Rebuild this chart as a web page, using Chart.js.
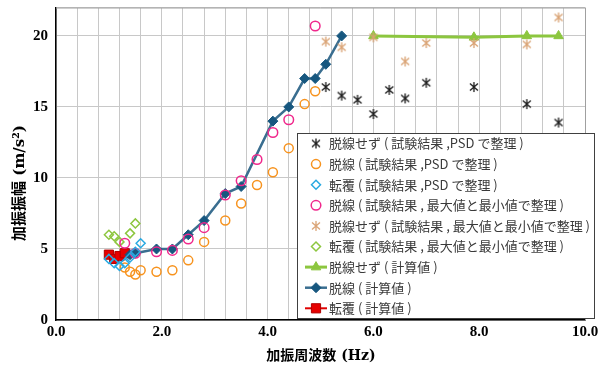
<!DOCTYPE html>
<html>
<head>
<meta charset="utf-8">
<script src="https://cdn.jsdelivr.net/npm/chart.js@4/dist/chart.umd.min.js"></script>
<style>
  html, body { margin: 0; padding: 0; background: #fff; }
  #wrap { width: 608px; height: 367px; position: relative; }
</style>
</head>
<body>
<div id="wrap"><canvas id="c" width="608" height="367"></canvas></div>
<script>
// Frequency (Hz) and acceleration amplitude (m/s^2) for each series
const noDerailPsdX = [5.1, 5.4, 5.7, 6.0, 6.3, 6.6, 7.0, 7.9, 8.9, 9.5];
const noDerailPsdY = [16.4, 15.8, 15.5, 14.5, 16.2, 15.6, 16.7, 16.4, 15.2, 13.9];

const derailPsdX = [1.3, 1.4, 1.5, 1.6, 1.9, 2.2, 2.5, 2.8, 3.2, 3.5, 3.8, 4.1, 4.4, 4.7, 4.9];
const derailPsdY = [3.7, 3.4, 3.2, 3.5, 3.4, 3.5, 4.2, 5.5, 7.0, 8.2, 9.5, 10.4, 12.1, 15.2, 16.1];

const overturnPsdX = [1.0, 1.1, 1.2, 1.3, 1.4, 1.5, 1.6];
const overturnPsdY = [4.3, 4.0, 3.8, 4.0, 4.4, 4.8, 5.4];

const derailPeakX = [1.3, 1.5, 1.9, 2.2, 2.5, 2.8, 3.2, 3.5, 3.8, 4.1, 4.4, 4.9];
const derailPeakY = [5.4, 4.7, 4.8, 4.9, 5.7, 6.5, 8.8, 9.8, 11.3, 13.2, 14.1, 20.7];

const noDerailPeakX = [5.1, 5.4, 6.0, 6.6, 7.0, 7.9, 8.9, 9.5];
const noDerailPeakY = [19.6, 19.2, 19.9, 18.2, 19.5, 19.5, 19.4, 21.3];

const overturnPeakX = [1.0, 1.1, 1.2, 1.4, 1.5];
const overturnPeakY = [6.0, 5.9, 5.5, 6.1, 6.8];

const noDerailCalcX = [6.0, 7.9, 8.9, 9.5];
const noDerailCalcY = [20.0, 19.9, 20.0, 20.0];

const derailCalcX = [1.4, 1.5, 1.9, 2.2, 2.5, 2.8, 3.2, 3.5, 4.1, 4.4, 4.7, 4.9, 5.1, 5.4];
const derailCalcY = [4.6, 4.7, 5.0, 5.0, 6.0, 7.0, 8.9, 9.4, 14.0, 15.0, 17.0, 17.0, 18.0, 20.0];

const overturnCalcX = [1.0, 1.1, 1.2, 1.3];
const overturnCalcY = [4.6, 4.3, 4.5, 4.7];

const seriesLabels = [
  '脱線せず ( 試験結果 ,PSD で整理 )',
  '脱線 ( 試験結果 ,PSD で整理 )',
  '転覆 ( 試験結果 ,PSD で整理 )',
  '脱線 ( 試験結果 , 最大値と最小値で整理 )',
  '脱線せず ( 試験結果 , 最大値と最小値で整理 )',
  '転覆 ( 試験結果 , 最大値と最小値で整理 )',
  '脱線せず ( 計算値 )',
  '脱線 ( 計算値 )',
  '転覆 ( 計算値 )'
];

const xTitle = '加振周波数 (Hz)';
const yTitle = '加振振幅 (m/s²)';

function pairs(xs, ys) { return xs.map((x, i) => ({ x: x, y: ys[i] })); }

// Asterisk marker: an X crossed by a vertical stroke
function asterisk(color) {
  const c = document.createElement('canvas');
  c.width = 12; c.height = 12;
  const g = c.getContext('2d');
  g.strokeStyle = color;
  g.lineWidth = 1.3;
  g.beginPath();
  g.moveTo(2, 2.5); g.lineTo(10, 9.5);
  g.moveTo(10, 2.5); g.lineTo(2, 9.5);
  g.moveTo(6, 1); g.lineTo(6, 11);
  g.stroke();
  return c;
}

const blackStar = asterisk('#1a1a1a');
const tanStar = asterisk('#d9a273');
const clear = 'rgba(0,0,0,0)';

const datasets = [
  { label: seriesLabels[0], data: pairs(noDerailPsdX, noDerailPsdY), showLine: false,
    pointStyle: blackStar, pointRadius: 6, borderColor: '#1a1a1a', backgroundColor: clear, order: 1 },
  { label: seriesLabels[1], data: pairs(derailPsdX, derailPsdY), showLine: false,
    pointStyle: 'circle', pointRadius: 4.5, pointBorderWidth: 1.5, borderColor: '#f7931e', backgroundColor: clear, order: 2 },
  { label: seriesLabels[2], data: pairs(overturnPsdX, overturnPsdY), showLine: false,
    pointStyle: 'rectRot', pointRadius: 4.5, pointBorderWidth: 1.5, borderColor: '#29a9e1', backgroundColor: clear, order: 0 },
  { label: seriesLabels[3], data: pairs(derailPeakX, derailPeakY), showLine: false,
    pointStyle: 'circle', pointRadius: 4.8, pointBorderWidth: 1.5, borderColor: '#f0288c', backgroundColor: clear, order: 1 },
  { label: seriesLabels[4], data: pairs(noDerailPeakX, noDerailPeakY), showLine: false,
    pointStyle: tanStar, pointRadius: 6, borderColor: '#d9a273', backgroundColor: clear, order: 1 },
  { label: seriesLabels[5], data: pairs(overturnPeakX, overturnPeakY), showLine: false,
    pointStyle: 'rectRot', pointRadius: 4.5, pointBorderWidth: 1.5, borderColor: '#8dc63f', backgroundColor: clear, order: 1 },
  { label: seriesLabels[6], data: pairs(noDerailCalcX, noDerailCalcY), showLine: true,
    borderColor: '#8cc63f', borderWidth: 3, pointStyle: 'triangle', pointRadius: 5.5, pointBorderWidth: 1,
    pointBackgroundColor: '#8cc63f', pointBorderColor: '#8cc63f', backgroundColor: '#8cc63f', order: 3 },
  { label: seriesLabels[7], data: pairs(derailCalcX, derailCalcY), showLine: true,
    borderColor: '#3a6e90', borderWidth: 2.5, pointStyle: 'rectRot', pointRadius: 5, pointBorderWidth: 1,
    pointBackgroundColor: '#17577f', pointBorderColor: '#17577f', backgroundColor: '#17577f', order: 4 },
  { label: seriesLabels[8], data: pairs(overturnCalcX, overturnCalcY), showLine: true,
    borderColor: '#e00000', borderWidth: 2, pointStyle: 'rect', pointRadius: 6.5, pointBorderWidth: 1,
    pointBackgroundColor: '#e60000', pointBorderColor: '#b00000', backgroundColor: '#e60000', order: 5 }
];

// Gray frame on the top and right of the plot area
const frame = {
  id: 'frame',
  beforeDatasetsDraw(chart) {
    const { ctx, chartArea: a } = chart;
    ctx.save();
    ctx.strokeStyle = '#a0a0a0';
    ctx.lineWidth = 1;
    ctx.beginPath();
    ctx.moveTo(a.left, a.top + 0.5);
    ctx.lineTo(a.right + 0.5, a.top + 0.5);
    ctx.lineTo(a.right + 0.5, a.bottom);
    ctx.stroke();
    ctx.restore();
  }
};

// Axis titles, placed under the x axis and to the left of the y axis
const axisTitles = {
  id: 'axisTitles',
  afterDraw(chart) {
    const ctx = chart.ctx;
    ctx.save();
    ctx.fillStyle = '#000';
    ctx.textAlign = 'center';
    ctx.textBaseline = 'middle';
    ctx.font = 'bold 14px "DejaVu Serif", "Noto Sans CJK JP", serif';
    ctx.fillText(xTitle, 321, 356);
    ctx.translate(20, 183);
    ctx.rotate(-Math.PI / 2);
    ctx.font = 'bold 15px "DejaVu Serif", "Noto Sans CJK JP", serif';
    ctx.fillText(yTitle, 0, 0);
    ctx.restore();
  }
};

// Boxed legend over the lower right of the plot
const boxLegend = {
  id: 'boxLegend',
  afterDraw(chart) {
    const ctx = chart.ctx;
    const left = 297.5, top = 133.5, w = 297, h = 185;
    ctx.save();
    ctx.fillStyle = '#ffffff';
    ctx.fillRect(left, top, w, h);
    ctx.strokeStyle = '#404040';
    ctx.lineWidth = 1;
    ctx.strokeRect(left, top, w, h);
    ctx.font = '13px "Noto Sans CJK JP", sans-serif';
    ctx.textBaseline = 'middle';
    chart.data.datasets.forEach((ds, i) => {
      const y = 143.5 + i * 20.6;
      const mx = 316;
      if (ds.showLine) {
        ctx.strokeStyle = ds.borderColor;
        ctx.lineWidth = ds.borderWidth;
        ctx.beginPath();
        ctx.moveTo(305, y);
        ctx.lineTo(327, y);
        ctx.stroke();
        ctx.fillStyle = ds.pointBackgroundColor;
        ctx.strokeStyle = ds.pointBorderColor;
      } else {
        ctx.fillStyle = ds.backgroundColor;
        ctx.strokeStyle = ds.borderColor;
      }
      ctx.lineWidth = ds.pointBorderWidth || 1;
      Chart.helpers.drawPoint(ctx, {
        pointStyle: ds.pointStyle,
        radius: ds.pointRadius,
        rotation: 0,
        borderWidth: ds.pointBorderWidth || 1
      }, mx, y);
      ctx.fillStyle = '#3a3a3a';
      ctx.fillText(ds.label, 329, y);
    });
    ctx.restore();
  }
};

const tickFont = { family: '"Liberation Serif", "DejaVu Serif", serif', size: 15, weight: 'bold' };

new Chart(document.getElementById('c'), {
  type: 'scatter',
  data: { datasets: datasets },
  plugins: [frame, axisTitles, boxLegend],
  options: {
    responsive: false,
    animation: false,
    layout: { padding: { top: 7, right: 23, left: 0, bottom: 0 } },
    plugins: { legend: { display: false }, tooltip: { enabled: false } },
    scales: {
      x: {
        type: 'linear', min: 0, max: 10,
        afterFit(s) { s.height = 47; s.paddingLeft = 0; s.paddingRight = 0; },
        ticks: {
          stepSize: 0.4, autoSkip: false, maxRotation: 0, padding: 3,
          color: '#000', font: tickFont,
          callback(v) {
            const r = v / 2;
            return Math.abs(r - Math.round(r)) < 1e-6 ? Number(v).toFixed(1) : '';
          }
        },
        grid: { color: '#c8c8c8', lineWidth: 1, drawTicks: false },
        border: { color: '#000', width: 1.5 }
      },
      y: {
        type: 'linear', min: 0, max: 22,
        afterFit(s) { s.width = 56; s.paddingTop = 0; s.paddingBottom = 0; },
        ticks: {
          stepSize: 5, color: '#000', font: tickFont, padding: 8,
          callback(v) { return v % 5 === 0 ? String(v) : ''; }
        },
        grid: { color: '#c8c8c8', lineWidth: 1, drawTicks: false },
        border: { color: '#000', width: 1.5 }
      }
    }
  }
});
</script>
</body>
</html>
